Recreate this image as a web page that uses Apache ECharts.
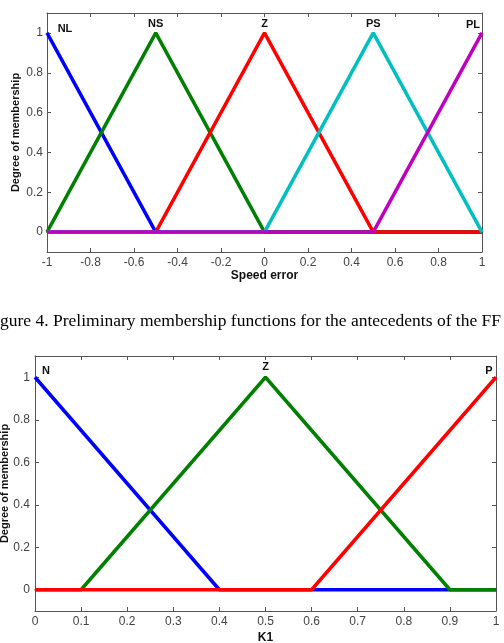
<!DOCTYPE html>
<html>
<head>
<meta charset="utf-8">
<script src="https://cdn.jsdelivr.net/npm/echarts@6/dist/echarts.min.js"></script>
<style>
html,body{margin:0;padding:0;background:#fff;}
#chart{width:504px;height:643px;}
</style>
</head>
<body>
<div id="chart"></div>
<script>
var fontFamily='Arial,"Liberation Sans",Helvetica,sans-serif';

// top chart: speed error, five triangular sets
var speedNames=['NL','NS','Z','PS','PL'];
var speedColors=['#0000ff','#008000','#ff0000','#00bfbf','#bf00bf'];
var speedSets=[
    [[-1,1],[-0.5,0],[1,0]],
    [[-1,0],[-0.5,1],[0,0],[1,0]],
    [[-1,0],[-0.5,0],[0,1],[0.5,0],[1,0]],
    [[-1,0],[0,0],[0.5,1],[1,0]],
    [[-1,0],[0.5,0],[1,1]]
];
var speedLabelOffset=[[18,5],[0,0],[0,0],[0,0],[-9,1]];

// bottom chart: K1, three sets
var k1Names=['N','Z','P'];
var k1Colors=['#0000ff','#008000','#ff0000'];
var k1Sets=[
    [[0,1],[0.4,0],[1,0]],
    [[0,0],[0.1,0],[0.5,1],[0.9,0],[1,0]],
    [[0,0],[0.6,0],[1,1]]
];
var k1LabelOffset=[[11,3],[0,-1],[-7,3]];

var yTicks=[0,0.2,0.4,0.6,0.8,1];
var caption='gure 4. Preliminary membership functions for the antecedents of the FF';

var axisColor='#555';
var labelStyle={color:'#444',fontFamily:fontFamily,fontSize:12};

function xAxisPair(grid,min,max,interval,name,nameGap){
    return [
        {
            gridIndex:grid,type:'value',min:min,max:max,interval:interval,
            name:name,nameLocation:'middle',nameGap:nameGap,
            nameTextStyle:{color:'#111',fontFamily:fontFamily,fontSize:12,fontWeight:'bold'},
            axisLine:{onZero:false,lineStyle:{color:axisColor}},
            axisTick:{inside:true,length:4,lineStyle:{color:axisColor}},
            axisLabel:Object.assign({margin:5},labelStyle),
            splitLine:{show:false}
        },
        {
            gridIndex:grid,type:'value',position:'top',min:min,max:max,interval:interval,
            axisLine:{onZero:false,lineStyle:{color:axisColor}},
            axisTick:{inside:true,length:4,lineStyle:{color:axisColor}},
            axisLabel:{show:false},
            splitLine:{show:false}
        }
    ];
}
function yAxisPair(grid,nameGap,labelMargin){
    return [
        {
            gridIndex:grid,type:'value',position:'left',min:-0.1,max:1.1,
            name:'Degree of membership',nameLocation:'middle',nameGap:nameGap,
            nameMoveOverlap:false,
            nameTextStyle:{color:'#111',fontFamily:fontFamily,fontSize:11,fontWeight:'bold'},
            axisLine:{show:true,onZero:false,lineStyle:{color:axisColor}},
            axisTick:{inside:true,length:4,customValues:yTicks,lineStyle:{color:axisColor}},
            axisLabel:Object.assign({margin:labelMargin,customValues:yTicks},labelStyle),
            splitLine:{show:false}
        },
        {
            gridIndex:grid,type:'value',position:'right',min:-0.1,max:1.1,
            axisLine:{show:true,onZero:false,lineStyle:{color:axisColor}},
            axisTick:{inside:true,length:4,customValues:yTicks,lineStyle:{color:axisColor}},
            axisLabel:{show:false},
            splitLine:{show:false}
        }
    ];
}

function makeSeries(sets,names,colors,offsets,xIdx,yIdx){
    return sets.map(function(pts,i){
        return {
            type:'line',name:names[i],xAxisIndex:xIdx,yAxisIndex:yIdx,
            symbol:'circle',symbolSize:1,showSymbol:true,showAllSymbol:true,
            animation:false,
            itemStyle:{color:colors[i]},
            lineStyle:{color:colors[i],width:3.5},
            z:2+i,
            data:pts.map(function(p){
                var d={value:p};
                if(p[1]===1){
                    d.label={show:true,position:'top',distance:3,offset:offsets[i],
                        formatter:names[i],color:'#111',fontFamily:fontFamily,fontSize:11,fontWeight:'bold'};
                }
                return d;
            })
        };
    });
}

var chart=echarts.init(document.getElementById('chart'));
var option={
    backgroundColor:'#fff',
    grid:[
        {left:47,right:22,top:13,height:239,outerBoundsMode:'none'},
        {left:35,right:8,top:356,height:255,outerBoundsMode:'none'}
    ],
    xAxis:xAxisPair(0,-1,1,0.2,'Speed error',18).concat(xAxisPair(1,0,1,0.1,'K1',21)),
    yAxis:yAxisPair(0,26,4).concat(yAxisPair(1,25,5)),
    graphic:[{
        type:'text',left:0,top:312,
        style:{text:caption,fill:'#000',font:'17.5px "Liberation Serif","Times New Roman",serif'}
    }],
    series:makeSeries(speedSets,speedNames,speedColors,speedLabelOffset,0,0)
        .concat(makeSeries(k1Sets,k1Names,k1Colors,k1LabelOffset,2,2))
};
chart.setOption(option);
</script>
</body>
</html>
